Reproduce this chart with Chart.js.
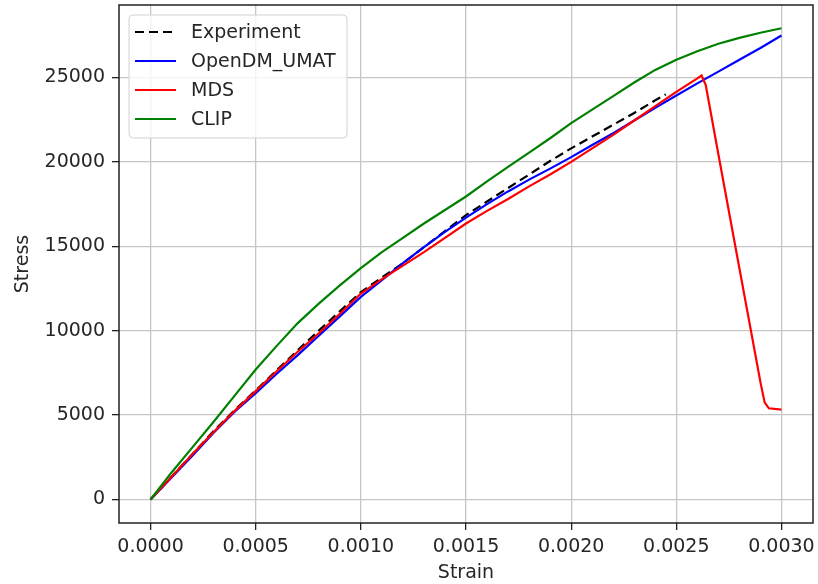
<!DOCTYPE html>
<html lang="en">
<head>
    <meta charset="UTF-8">
    <title>Stress vs Strain</title>
    <script src="https://cdn.jsdelivr.net/npm/chart.js"></script>
<style>
body { margin: 0; background: #fff; }
#myChart { display: block; }
</style>
</head>
<body>

<canvas id="myChart" width="818" height="584"></canvas>

<script>
// strain grid shared by Experiment, OpenDM_UMAT and CLIP
const strainGrid = [0, 0.0001, 0.0002, 0.0003, 0.0004, 0.0005, 0.0006, 0.0007, 0.0008, 0.0009,
    0.0010, 0.0011, 0.0012, 0.0013, 0.0014, 0.0015, 0.0016, 0.0017, 0.0018, 0.0019,
    0.0020, 0.0021, 0.0022, 0.0023, 0.0024, 0.0025, 0.0026, 0.0027, 0.0028, 0.0029, 0.0030];

const expStrain = [0, 0.0001, 0.0002, 0.0003, 0.0004, 0.0005, 0.0006, 0.0007, 0.0008, 0.0009,
    0.0010, 0.0011, 0.0012, 0.0013, 0.0014, 0.0015, 0.0016, 0.0017, 0.0018, 0.0019,
    0.0020, 0.0021, 0.0022, 0.0023, 0.0024, 0.00245];
const expStress = [0, 1350, 2700, 4050, 5300, 6460, 7650, 8850, 10000, 11150,
    12280, 13150, 14000, 14950, 15900, 16850, 17650, 18450, 19250, 20050,
    20800, 21500, 22200, 22900, 23650, 24000];

const umatStress = [0, 1300, 2600, 3950, 5200, 6300, 7450, 8550, 9700, 10850,
    12000, 13000, 14000, 14950, 15850, 16700, 17500, 18250, 18950, 19600,
    20280, 21000, 21700, 22450, 23200, 23930, 24650, 25350, 26050, 26750, 27490];

const mdsStrain = [0, 0.0001, 0.0002, 0.0003, 0.0004, 0.0005, 0.0006, 0.0007, 0.0008, 0.0009,
    0.0010, 0.0011, 0.0012, 0.0013, 0.0014, 0.0015, 0.0016, 0.0017, 0.0018, 0.0019,
    0.0020, 0.0021, 0.0022, 0.0023, 0.0024, 0.0025, 0.0026, 0.00262, 0.00264,
    0.0027, 0.0028, 0.0029, 0.00292, 0.00294, 0.0030];
const mdsStress = [0, 1350, 2700, 4000, 5250, 6420, 7600, 8750, 9850, 11000,
    12200, 13050, 13850, 14650, 15500, 16350, 17100, 17800, 18550, 19250,
    20000, 20800, 21600, 22450, 23300, 24150, 24950, 25120, 24550,
    20450, 13700, 6950, 5750, 5400, 5320];

const clipStress = [0, 1600, 3100, 4600, 6150, 7700, 9100, 10450, 11600, 12680,
    13700, 14650, 15500, 16350, 17150, 17950, 18850, 19700, 20550, 21400,
    22300, 23100, 23900, 24700, 25450, 26050, 26550, 27000, 27350, 27650, 27920];

const xTicks = [0, 0.0005, 0.0010, 0.0015, 0.0020, 0.0025, 0.0030];
const yTicks = [0, 5000, 10000, 15000, 20000, 25000];

function zip(xs, ys) {
    return xs.map((x, i) => ({ x: x, y: ys[i] }));
}

const FONT = { family: "'DejaVu Sans', sans-serif", size: 19 };
const TEXT = '#262626';

// matplotlib style frame and upper-left legend box
const framePlugin = {
    id: 'frame',
    afterDatasetsDraw(chart) {
        const a = chart.chartArea;
        const c = chart.ctx;
        c.save();
        c.strokeStyle = '#222';
        c.lineWidth = 1.5;
        c.strokeRect(a.left, a.top, a.right - a.left, a.bottom - a.top);
        c.restore();
    },
    afterDraw(chart) {
        const a = chart.chartArea;
        const c = chart.ctx;
        const bx = a.left + 10, by = a.top + 10, bw = 218, bh = 123;
        c.save();
        c.beginPath();
        c.roundRect(bx, by, bw, bh, 4);
        c.fillStyle = 'rgba(255,255,255,0.8)';
        c.fill();
        c.strokeStyle = '#d2d2d2';
        c.lineWidth = 1;
        c.stroke();
        c.font = FONT.size + 'px ' + FONT.family;
        c.textBaseline = 'middle';
        chart.data.datasets.forEach((ds, i) => {
            const y = by + 17 + i * 29;
            c.beginPath();
            c.strokeStyle = ds.borderColor;
            c.lineWidth = ds.borderWidth;
            c.setLineDash(ds.borderDash || []);
            c.moveTo(bx + 6, y);
            c.lineTo(bx + 47, y);
            c.stroke();
            c.setLineDash([]);
            c.fillStyle = TEXT;
            c.fillText(ds.label, bx + 62, y + 1);
        });
        c.restore();
    }
};

function noEdgePadding(axis) {
    axis.paddingTop = 0;
    axis.paddingBottom = 0;
    axis.paddingLeft = 0;
    axis.paddingRight = 0;
}

const ctx = document.getElementById('myChart').getContext('2d');
const myChart = new Chart(ctx, {
    type: 'line',
    data: {
        datasets: [{
            label: 'Experiment',
            data: zip(expStrain, expStress),
            borderColor: '#000000',
            borderDash: [9, 5],
            borderWidth: 2.2,
            order: 4
        }, {
            label: 'OpenDM_UMAT',
            data: zip(strainGrid, umatStress),
            borderColor: '#0000ff',
            borderWidth: 2.2,
            order: 3
        }, {
            label: 'MDS',
            data: zip(mdsStrain, mdsStress),
            borderColor: '#ff0000',
            borderWidth: 2.2,
            order: 2
        }, {
            label: 'CLIP',
            data: zip(strainGrid, clipStress),
            borderColor: '#008000',
            borderWidth: 2.2,
            order: 1
        }]
    },
    options: {
        responsive: false,
        animation: false,
        elements: { point: { radius: 0 }, line: { tension: 0, fill: false } },
        layout: { padding: { top: 5, right: 5, left: 0, bottom: 0 } },
        plugins: { legend: { display: false }, tooltip: { enabled: false } },
        scales: {
            x: {
                type: 'linear',
                min: -0.00015,
                max: 0.00315,
                afterBuildTicks: axis => { axis.ticks = xTicks.map(v => ({ value: v })); },
                afterFit: axis => { axis.height = 61; noEdgePadding(axis); },
                ticks: {
                    font: FONT, color: TEXT, padding: 6, maxRotation: 0,
                    callback: v => v.toFixed(4)
                },
                grid: { color: '#c6c6c6', lineWidth: 1.3, tickColor: '#222', tickLength: 7 },
                border: { display: false },
                title: { display: true, text: 'Strain', font: FONT, color: TEXT, padding: { top: 0, bottom: 0 } }
            },
            y: {
                min: -1395,
                max: 29295,
                afterBuildTicks: axis => { axis.ticks = yTicks.map(v => ({ value: v })); },
                afterFit: axis => { axis.width = 119; noEdgePadding(axis); },
                ticks: {
                    font: FONT, color: TEXT, padding: 7,
                    callback: v => String(v)
                },
                grid: { color: '#c6c6c6', lineWidth: 1.3, tickColor: '#222', tickLength: 7 },
                border: { display: false },
                title: { display: true, text: 'Stress', font: FONT, color: TEXT, padding: { top: 12, bottom: 0 } }
            }
        }
    },
    plugins: [framePlugin]
});
</script>

</body>
</html>
